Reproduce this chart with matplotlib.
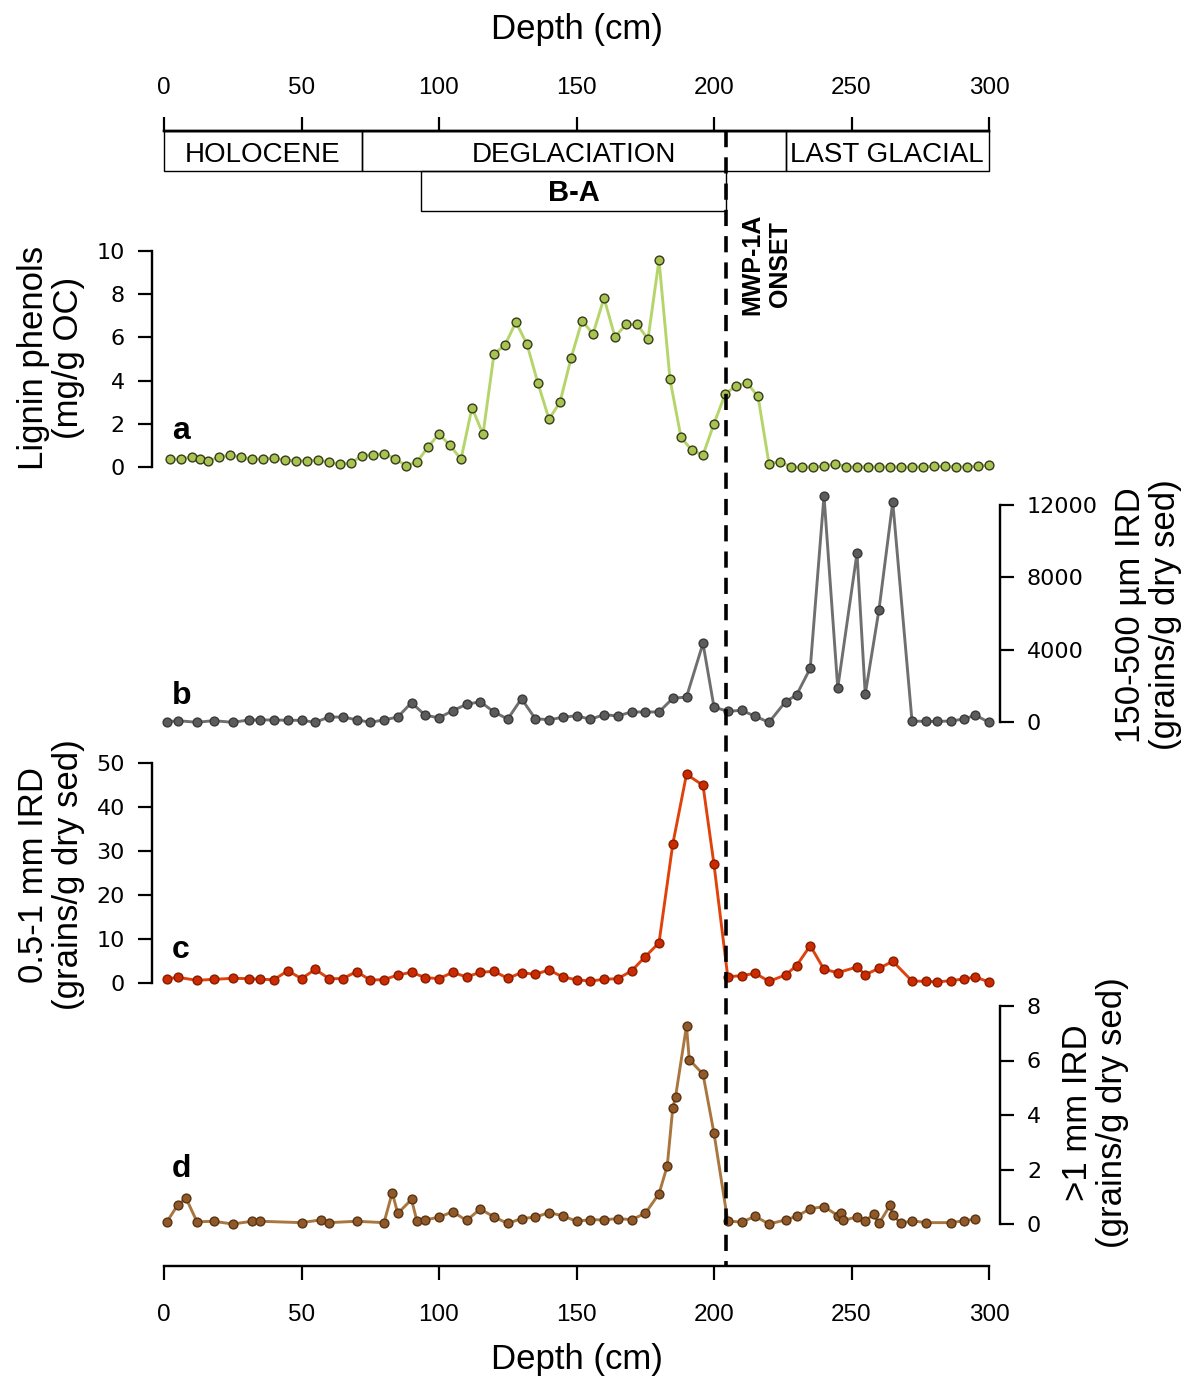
import matplotlib
matplotlib.use("Agg")
import matplotlib.pyplot as plt
from matplotlib.patches import Rectangle

plt.rcParams['font.family'] = ['Liberation Sans', 'DejaVu Sans']

# ---------------- data ----------------
a_depth = [2, 6, 10, 13, 16, 20, 24, 28, 32, 36, 40, 44, 48, 52, 56, 60, 64, 68, 72, 76,
           80, 84, 88, 92, 96, 100, 104, 108, 112, 116, 120, 124, 128, 132, 136, 140, 144,
           148, 152, 156, 160, 164, 168, 172, 176, 180, 184, 188, 192, 196, 200, 204, 208,
           212, 216, 220, 224, 228, 232, 236, 240, 244, 248, 252, 256, 260, 264, 268, 272,
           276, 280, 284, 288, 292, 296, 300]
a_lignin = [0.36, 0.36, 0.46, 0.37, 0.29, 0.45, 0.55, 0.46, 0.36, 0.37, 0.41, 0.32, 0.29,
            0.29, 0.32, 0.22, 0.12, 0.19, 0.52, 0.57, 0.62, 0.39, 0.06, 0.23, 0.93, 1.53,
            1.0, 0.36, 2.75, 1.51, 5.23, 5.65, 6.71, 5.68, 3.87, 2.22, 3.0, 5.03, 6.77,
            6.16, 7.82, 6.02, 6.6, 6.6, 5.93, 9.58, 4.06, 1.37, 0.77, 0.56, 2.0, 3.36,
            3.77, 3.89, 3.27, 0.15, 0.25, 0.0, 0.0, 0.0, 0.03, 0.15, 0.02, 0.0, 0.02, 0.0,
            0.02, 0.0, 0.0, 0.02, 0.03, 0.03, 0.0, 0.02, 0.03, 0.09]

bc_depth = [1, 5, 12, 18, 25, 31, 35, 40, 45, 50, 55, 60, 65, 70, 75, 80, 85, 90, 95, 100,
            105, 110, 115, 120, 125, 130, 135, 140, 145, 150, 155, 160, 165, 170, 175, 180,
            185, 190, 196, 200, 205, 210, 215, 220, 226, 230, 235, 240, 245, 252, 255, 260,
            265, 272, 277, 281, 286, 291, 295, 300]
b_ird150 = [20, 90, 0, 90, 0, 130, 130, 130, 110, 110, 0, 290, 290, 140, 0, 130, 290, 1080,
            385, 250, 640, 990, 1135, 570, 180, 1300, 200, 140, 275, 365, 165, 420, 350,
            570, 570, 570, 1320, 1395, 4350, 840, 605, 660, 330, 0, 1135, 1500, 2975,
            12490, 1890, 9330, 1540, 6205, 12140, 70, 50, 50, 70, 180, 400, 0]
c_ird05 = [0.98, 1.36, 0.68, 0.9, 1.13, 1.06, 0.9, 0.83, 2.86, 1.06, 3.17, 1.06, 1.06, 2.65,
           0.75, 0.83, 1.89, 2.5, 1.29, 1.06, 2.5, 1.44, 2.5, 2.73, 1.13, 2.42, 2.05, 3.03,
           1.44, 0.8, 0.52, 0.9, 1.06, 2.8, 6.05, 9.2, 31.6, 47.5, 45.0, 27.0, 1.5, 1.73,
           2.27, 0.45, 1.89, 4.0, 8.55, 3.17, 2.42, 3.7, 1.96, 3.4, 5.0, 0.52, 0.45, 0.3,
           0.6, 0.98, 1.44, 0.3]

d_depth = [1, 5, 8, 12, 18, 25, 32, 35, 50, 57, 60, 70, 80, 83, 85, 90, 92, 95, 100, 105,
           110, 115, 120, 125, 130, 135, 140, 145, 150, 155, 160, 165, 170, 175, 180, 183,
           185, 186, 190, 191, 196, 200, 205, 210, 215, 220, 226, 230, 235, 240, 245, 246,
           247, 252, 255, 258, 260, 264, 265, 268, 272, 277, 286, 291, 295]
d_ird1 = [0.07, 0.7, 0.95, 0.08, 0.1, 0.0, 0.1, 0.1, 0.05, 0.15, 0.05, 0.1, 0.05, 1.15, 0.39,
          0.9, 0.1, 0.15, 0.25, 0.45, 0.13, 0.55, 0.26, 0.02, 0.2, 0.25, 0.42, 0.3, 0.1,
          0.16, 0.15, 0.2, 0.16, 0.39, 1.11, 2.13, 4.25, 4.66, 7.27, 6.03, 5.5, 3.33, 0.11,
          0.07, 0.28, 0.0, 0.15, 0.28, 0.56, 0.64, 0.31, 0.4, 0.13, 0.26, 0.12, 0.35, 0.02,
          0.68, 0.33, 0.02, 0.12, 0.05, 0.05, 0.12, 0.18]

depth_ticks = [0, 50, 100, 150, 200, 250, 300]
period_names = ["HOLOCENE", "DEGLACIATION", "LAST GLACIAL"]
period_bounds = [0, 72, 226, 300]
ba_name = "B-A"
ba_bounds = [93.5, 204.5]
mwp_depth = 204.5

a_ticks = [0, 2, 4, 6, 8, 10]
b_ticks = [0, 4000, 8000, 12000]
c_ticks = [0, 10, 20, 30, 40, 50]
d_ticks = [0, 2, 4, 6, 8]

# ---------------- layout helpers ----------------
W, H = 1192, 1381
fig = plt.figure(figsize=(W / 100, H / 100), dpi=100)
PX = 0.72  # points per pixel
X0, X1 = 164, 989


def add_ax(ytop, ybot, x0=X0, x1=X1):
    return fig.add_axes([x0 / W, 1 - ybot / H, (x1 - x0) / W, (ybot - ytop) / H])


def style(ax, side, ticks, out_px):
    ax.set_xlim(0, 300)
    ax.set_ylim(ticks[0], ticks[-1])
    ax.patch.set_visible(False)
    for s in ['top', 'bottom', 'left', 'right']:
        ax.spines[s].set_visible(False)
    sp = ax.spines[side]
    sp.set_visible(True)
    sp.set_position(('outward', out_px * PX))
    sp.set_bounds(ticks[0], ticks[-1])
    sp.set_linewidth(2.4 * PX)
    ax.set_xticks([])
    ax.set_yticks(ticks)
    ax.set_yticklabels([str(t) for t in ticks])
    if side == 'right':
        ax.yaxis.tick_right()
    else:
        ax.yaxis.tick_left()
    ax.tick_params(axis='y', length=14 * PX, width=2.2 * PX, pad=13 * PX,
                   labelsize=16, direction='out')
    for lbl in ax.get_yticklabels():
        lbl.set_fontfamily('DejaVu Sans')


def series(ax, x, y, lc, fc, ec):
    ax.plot(x, y, '-', color=lc, lw=2.9 * PX, marker='o', ms=8.8 * PX,
            mfc=fc, mec=ec, mew=1.4 * PX, clip_on=False, zorder=3)


# Panel a
ax_a = add_ax(251, 467)
style(ax_a, 'left', a_ticks, 12)
series(ax_a, a_depth, a_lignin, '#b5d56b', '#a7c452', '#3a3a1e')

# Panel b
ax_b = add_ax(504.5, 722.3)
style(ax_b, 'right', b_ticks, 11)
series(ax_b, bc_depth, b_ird150, '#6f6f6f', '#5c5c5c', '#3a3a3a')

# Panel c
ax_c = add_ax(763.3, 983.3)
style(ax_c, 'left', c_ticks, 12)
series(ax_c, bc_depth, c_ird05, '#e0420c', '#cc2a00', '#8a1c00')

# Panel d
ax_d = add_ax(1006, 1224)
style(ax_d, 'right', d_ticks, 11)
series(ax_d, d_depth, d_ird1, '#a8763e', '#90592a', '#5a3412')

# ---------------- frame: depth axes, periods, dashed line ----------------
fa = add_ax(131, 1266)
fa.set_xlim(0, 300)
fa.set_ylim(1266, 131)  # y measured in pixels from top
fa.patch.set_visible(False)
fa.spines['left'].set_visible(False)
fa.spines['right'].set_visible(False)
for s in ['top', 'bottom']:
    fa.spines[s].set_linewidth(2.4 * PX)
fa.set_yticks([])
fa.set_xticks(depth_ticks)
fa.set_xticklabels([str(t) for t in depth_ticks])
fa.tick_params(axis='x', top=False, bottom=True, labeltop=False, labelbottom=True,
               length=14 * PX, width=2.2 * PX, direction='out', labelsize=17.5,
               pad=24 * PX)

sec = fa.secondary_xaxis('top')
sec.set_xticks(depth_ticks)
sec.set_xticklabels([str(t) for t in depth_ticks])
sec.spines['top'].set_linewidth(2.4 * PX)
sec.tick_params(axis='x', length=14 * PX, width=2.2 * PX, direction='out',
                labelsize=17.5, pad=18 * PX)

for i, name in enumerate(period_names):
    x0, x1 = period_bounds[i], period_bounds[i + 1]
    fa.add_patch(Rectangle((x0, 131), x1 - x0, 40, fill=False, lw=1.4 * PX,
                           ec='black', clip_on=False))
    fa.text((x0 + x1) / 2, 155, name, ha='center', va='center', fontsize=20)

fa.add_patch(Rectangle((ba_bounds[0], 171), ba_bounds[1] - ba_bounds[0], 40,
                       fill=False, lw=1.4 * PX, ec='black', clip_on=False))
fa.text(sum(ba_bounds) / 2, 193, ba_name, ha='center', va='center', fontsize=21,
        fontweight='bold')

fa.plot([mwp_depth, mwp_depth], [131, 1266], color='black', lw=3.6 * PX,
        ls=(0, (4.5, 2.8)), zorder=5, clip_on=False)
fa.text(mwp_depth + 14.5, 264, "MWP-1A\nONSET", rotation=90, ha='center',
        va='center', fontsize=18, fontweight='bold', linespacing=1.15)


# ---------------- text labels ----------------
def ftext(x, y, s, **kw):
    fig.text(x / W, 1 - y / H, s, **kw)


ftext(576.5, 30, "Depth (cm)", ha='center', va='center', fontsize=25)
ftext(576.5, 1360, "Depth (cm)", ha='center', va='center', fontsize=25)

ftext(51, 358, "Lignin phenols\n(mg/g OC)", rotation=90, ha='center', va='center',
      fontsize=25, linespacing=1.05)
ftext(51, 875, "0.5-1 mm IRD\n(grains/g dry sed)", rotation=90, ha='center',
      va='center', fontsize=25, linespacing=1.05)
ftext(1148, 615, "150-500 µm IRD\n(grains/g dry sed)", rotation=90, ha='center',
      va='center', fontsize=25, linespacing=1.05)
ftext(1095, 1113, ">1 mm IRD\n(grains/g dry sed)", rotation=90, ha='center',
      va='center', fontsize=25, linespacing=1.05)

for letter, yb in zip("abcd", [439, 704, 958, 1177]):
    ftext(172, yb, letter, ha='left', va='baseline', fontsize=23, fontweight='bold')

fig.savefig("out.png", dpi=100)
